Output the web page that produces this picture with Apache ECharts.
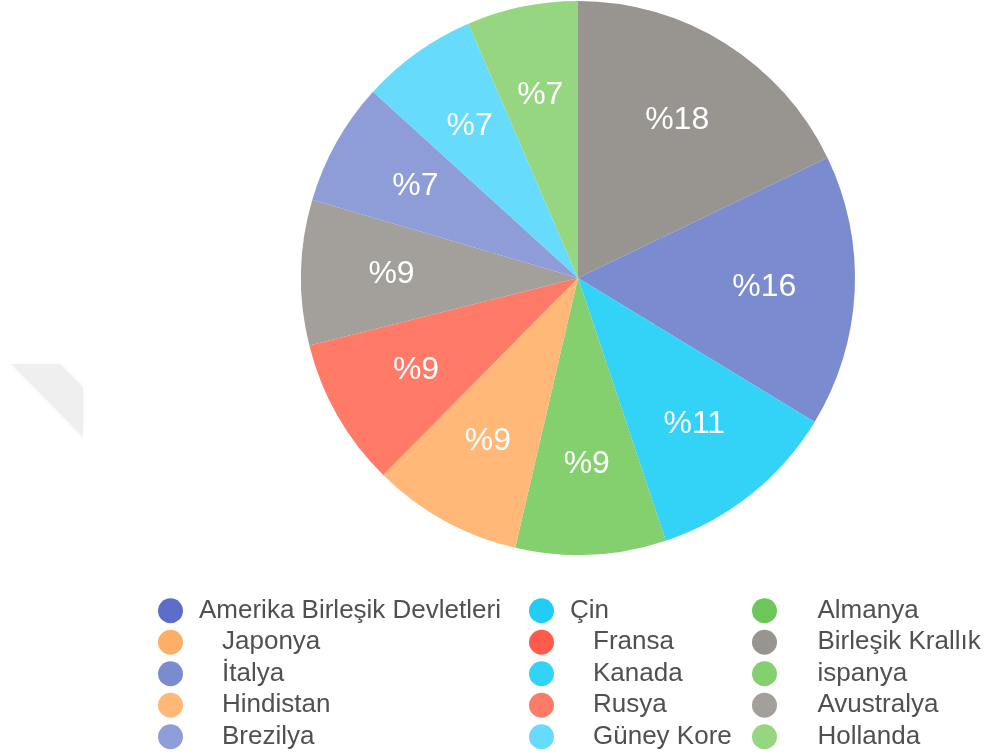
<!DOCTYPE html>
<html>
<head>
<meta charset="utf-8">
<style>html,body{margin:0;padding:0;background:#fff}#c{width:989px;height:756px}</style>
<script src="https://cdn.jsdelivr.net/npm/echarts@6/dist/echarts.min.js"></script>
</head>
<body>
<div id="c"></div>
<script>
const countries = ['Amerika Birleşik Devletleri','Çin','Almanya','Japonya','Fransa','Birleşik Krallık','İtalya','Kanada','ispanya','Hindistan','Rusya','Avustralya','Brezilya','Güney Kore','Hollanda'];
const shares = [0, 0, 0, 0, 0, 17.9, 15.9, 11.2, 8.8, 8.8, 8.7, 8.5, 7.2, 6.8, 6.5];
const colors = ['#5b6dc8','#22ccf5','#6cc65a','#ffae66','#ff5b4a','#98948f','#7b8bd0','#33d3f8','#84cf6e','#ffb877','#ff7b68','#a3a09b','#8e9cd8','#66dbfb','#96d681'];
const legendCol1 = ['Amerika Birleşik Devletleri','Japonya','İtalya','Hindistan','Brezilya'];
const legendCol2 = ['Çin','Fransa','Kanada','Rusya','Güney Kore'];
const legendCol3 = ['Almanya','Birleşik Krallık','ispanya','Avustralya','Hollanda'];
const shortIndent = ['Amerika Birleşik Devletleri','Çin'];

const font = "'Liberation Sans', Helvetica, Arial, sans-serif";
const data = countries.map((n, i) => ({name: n, value: shares[i], itemStyle: {color: colors[i]}}));

function mkLegend(list, left, pad) {
  return {
    orient: 'vertical', left: left, top: 595, padding: 0, itemGap: 0,
    itemWidth: 25, itemHeight: 25, icon: 'circle',
    data: list,
    formatter: n => shortIndent.includes(n) ? '{s|' + n + '}' : '{w|' + n + '}',
    textStyle: {
      fontFamily: font, fontSize: 26, color: '#505050', lineHeight: 31.5,
      rich: {
        s: {fontFamily: font, fontSize: 26, color: '#505050', lineHeight: 31.5, padding: [0,0,0,11]},
        w: {fontFamily: font, fontSize: 26, color: '#505050', lineHeight: 31.5, padding: [0,0,0,pad]}
      }
    }
  };
}

const chart = echarts.init(document.getElementById('c'));
chart.setOption({
  animation: false,
  backgroundColor: '#fff',
  legend: [mkLegend(legendCol1, 158, 34), mkLegend(legendCol2, 529, 34), mkLegend(legendCol3, 752, 35.5)],
  graphic: [{
    type: 'polygon', silent: true, z: -1,
    shape: {points: [[11,364],[60,364],[83,387],[83,437]]},
    style: {fill: '#efefef', shadowBlur: 6, shadowColor: 'rgba(0,0,0,0.04)'}
  }],
  series: [{
    type: 'pie', center: [578, 278], radius: [90, 277], startAngle: 90, clockwise: true,
    data: data, silent: true,
    itemStyle: {borderWidth: 0},
    emphasis: {disabled: true},
    labelLine: {show: false},
    label: {
      show: true, position: 'inside', color: '#fff', fontFamily: font, fontSize: 32,
      formatter: p => p.value > 0 ? '%' + Math.round(p.value) : ''
    }
  }, {
    type: 'pie', center: [578, 278], radius: [0, 93], startAngle: 90, clockwise: true,
    data: data, silent: true,
    itemStyle: {borderWidth: 0},
    emphasis: {disabled: true},
    label: {show: false}, labelLine: {show: false}
  }]
});
</script>
</body>
</html>
